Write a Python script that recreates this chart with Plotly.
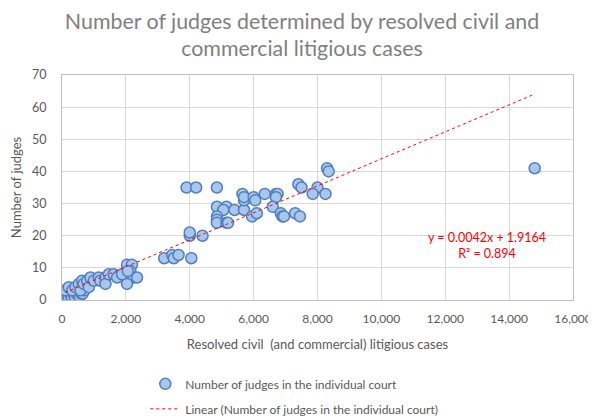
import plotly.graph_objects as go

# Resolved civil (and commercial) litigious cases per court, and judges in that court
cases = [100, 150, 200, 250, 300, 350, 400, 450, 500, 550, 600, 650, 700,
         110, 210, 320, 420, 525, 580, 630, 680, 790, 840, 890, 995, 1150, 1200,
         1360, 1360, 1465, 1620, 1725, 1985, 2035, 2190, 2140, 2245, 2350, 2035,
         1880, 2060,
         3200, 3450, 3500, 3650, 4050, 4000, 4000, 4400,
         3900, 4200, 4850,
         4850, 5150, 5050, 5400, 5700, 4850, 4850, 4850, 5150, 5200, 5700, 5650,
         5700, 6000, 6050, 6350, 6700, 6750, 6700, 5950, 6100, 6600, 6850, 6900,
         6950, 7300, 7450,
         7400, 7500, 8000, 7850, 8250, 8300, 8350, 14800]
judges = [1, 2, 1, 2, 1, 2, 1, 2, 2, 1, 2, 2, 3,
          3, 4, 3, 4, 5, 3, 6, 5, 6, 4, 7, 6, 7, 6,
          7, 5, 8, 8, 7, 8, 11, 11, 9, 7, 7, 5,
          8, 9,
          13, 14, 13, 14, 13, 20, 21, 20,
          35, 35, 35,
          29, 29, 28, 28, 28, 26, 25, 24, 24, 24, 31, 33,
          32, 32, 31, 33, 33, 33, 32, 26, 27, 29, 27, 26,
          26, 27, 26,
          36, 35, 35, 33, 33, 41, 40, 41]

# Linear trendline as shown on the chart
slope = 0.0042
intercept = 1.9164
r_squared = 0.894

trend_x = [min(cases), max(cases)]
trend_y = [slope * v + intercept for v in trend_x]

grey = "#595959"
font = "Lato"

fig = go.Figure()
fig.add_trace(go.Scatter(
    x=cases, y=judges, mode="markers", legendgroup="pts",
    name="Number of judges in the individual court",
    marker=dict(size=11, color="#a9c6ee", line=dict(color="#4f7fbf", width=1.5)),
))
fig.add_trace(go.Scatter(
    x=trend_x, y=trend_y, mode="lines", legendgroup="trend",
    name="Linear (Number of judges in the individual court)",
    line=dict(color="#ff0000", width=1, dash="dot"),
))

fig.add_annotation(
    x=13300, y=17, xref="x", yref="y", showarrow=False,
    text=f"y = {slope}x + {intercept}<br>R² = {r_squared}",
    font=dict(family=font, size=12.5, color="#ff0000"), align="center",
)

# page body adds an 8px margin, so the figure is 8px smaller than the window
fig.update_layout(
    width=588, height=412,
    margin=dict(l=53.5, r=22.5, t=67, b=119.5),
    paper_bgcolor="white", plot_bgcolor="white",
    font=dict(family=font, color=grey),
    title=dict(
        text="Number of judges determined by resolved civil and<br>commercial litigious cases",
        x=0.5, xanchor="center", y=0.95, yanchor="middle",
        font=dict(family=font, size=21.4, color="#808080"),
    ),
    showlegend=True,
    legend=dict(x=0.163, y=0.123, xanchor="left", yanchor="top",
                xref="paper", yref="container",
                font=dict(family=font, size=12, color=grey),
                bgcolor="rgba(0,0,0,0)", tracegroupgap=6),
    xaxis=dict(
        range=[0, 16000], dtick=2000, tickformat=",d", automargin=False,
        title=dict(text="Resolved civil  (and commercial) litigious cases",
                   font=dict(family=font, size=13, color=grey), standoff=14),
        tickfont=dict(family=font, size=12, color=grey),
        showgrid=True, gridcolor="#d9d9d9", zeroline=False,
        showline=True, linecolor="#bfbfbf", mirror=True,
        ticks="", ticklabelstandoff=8,
    ),
    yaxis=dict(
        range=[0, 70], dtick=10, automargin=False,
        title=dict(text="Number of judges",
                   font=dict(family=font, size=13, color=grey), standoff=12),
        tickfont=dict(family=font, size=12.5, color=grey),
        showgrid=True, gridcolor="#d9d9d9", zeroline=False,
        showline=True, linecolor="#bfbfbf", mirror=True,
        ticks="", ticklabelstandoff=12,
    ),
)

fig.write_html("out.html")
